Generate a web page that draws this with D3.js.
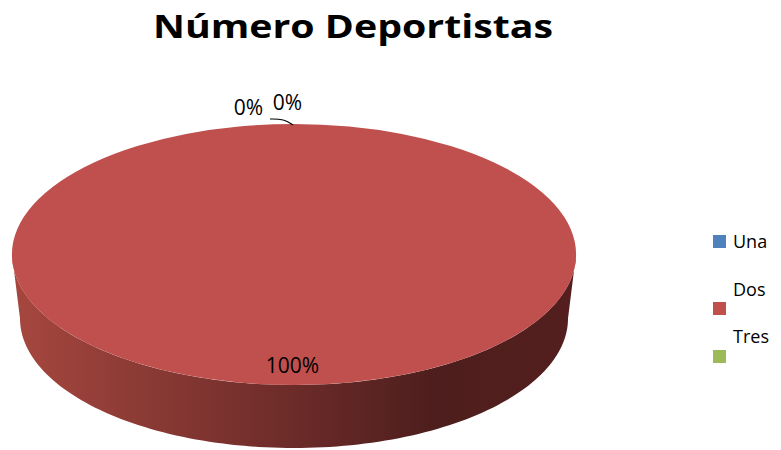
<!DOCTYPE html>
<html><head><meta charset="utf-8">
<script src="https://cdn.jsdelivr.net/npm/d3@7"></script>
<style>body{margin:0;background:#fff}svg{display:block}</style>
</head><body>
<script>
const categories = ["Una", "Dos", "Tres"];
const values = [0, 100, 0];
const colors = ["#4F81BD", "#C0504D", "#9BBB59"];
const title = "Número Deportistas";

const W = 781, H = 450;
const cx = 294, cy = 254.5, rx = 282, ry = 130.5;
const depth = 64, rxB = 274, ryB = 129.5;
const svg = d3.select("body").append("svg").attr("width", W).attr("height", H);

const defs = svg.append("defs");
const g = defs.append("linearGradient").attr("id", "side").attr("gradientUnits", "userSpaceOnUse")
  .attr("x1", cx - rx).attr("x2", cx + rx).attr("y1", 0).attr("y2", 0);
g.append("stop").attr("offset", "0%").attr("stop-color", "#a6473f");
g.append("stop").attr("offset", "45%").attr("stop-color", "#722e2b");
g.append("stop").attr("offset", "75%").attr("stop-color", "#4d1e1d");
g.append("stop").attr("offset", "100%").attr("stop-color", "#541f1e");

svg.append("text").attr("x", 353).attr("y", 38).attr("text-anchor", "middle")
  .attr("font-family", "'Open Sans', sans-serif").attr("font-weight", "bold")
  .attr("font-size", 33).attr("textLength", 400).attr("lengthAdjust", "spacingAndGlyphs")
  .attr("fill", "#000").text(title);

const pie = d3.pie().sort(null).startAngle(0).endAngle(2 * Math.PI);
const arcs = pie(values);
const sx = a => cx + rx * Math.sin(a);
const sy = a => cy - ry * Math.cos(a);
const bx = a => cx + rxB * Math.sin(a);
const by = a => cy + depth - ryB * Math.cos(a);

// sides (front half only)
const chart = svg.append("g");
arcs.forEach((d, i) => {
  const a0 = Math.max(d.startAngle, Math.PI / 2), a1 = Math.min(d.endAngle, 3 * Math.PI / 2);
  if (a1 <= a0) return;
  const n = 120, pts = [];
  for (let k = 0; k <= n; k++) { const a = a0 + (a1 - a0) * k / n; pts.push([sx(a), sy(a)]); }
  for (let k = n; k >= 0; k--) { const a = a0 + (a1 - a0) * k / n; pts.push([bx(a), by(a)]); }
  chart.append("path").attr("d", d3.line()(pts) + "Z")
    .attr("fill", i === 1 ? "url(#side)" : d3.color(colors[i]).darker(1));
});
// top face
const arcGen = d3.arc().innerRadius(0).outerRadius(rx);
chart.append("g").attr("transform", `translate(${cx},${cy}) scale(1,${ry / rx})`)
  .selectAll("path").data(arcs).join("path")
  .attr("d", arcGen).attr("fill", (d, i) => colors[i]);

// labels
const total = d3.sum(values);
const fmt = v => Math.round(v / total * 100) + "%";
const lbl = svg.append("g").attr("font-family", "'Open Sans', sans-serif").attr("font-size", 21).attr("fill", "#000");
const big = arcs[1];
const ma = (big.startAngle + big.endAngle) / 2;
lbl.append("text").attr("x", cx - 1.5 + 0 * Math.sin(ma)).attr("y", cy - 0.91 * ry * Math.cos(ma))
  .attr("text-anchor", "middle").text(fmt(values[1]));
const topX = sx(arcs[0].startAngle), topY = sy(arcs[0].startAngle);
lbl.append("text").attr("x", topX - 45.5).attr("y", topY - 9).attr("text-anchor", "middle").text(fmt(values[0]));
lbl.append("text").attr("x", topX - 6.5).attr("y", topY - 14).attr("text-anchor", "middle").text(fmt(values[2]));
svg.append("path").attr("d", d3.line().curve(d3.curveBasis)([[topX - 24, topY - 5], [topX - 10, topY - 5], [topX - 1, topY + 1]]))
  .attr("fill", "none").attr("stroke", "#000").attr("stroke-width", 1.2);

// legend
const leg = svg.append("g").attr("font-family", "'Open Sans', sans-serif").attr("font-size", 18).attr("fill", "#000");
const legPos = [{ty: 248, sy: 235}, {ty: 296, sy: 302}, {ty: 343, sy: 350}];
categories.forEach((c, i) => {
  leg.append("rect").attr("x", 713).attr("y", legPos[i].sy).attr("width", 13).attr("height", 13).attr("fill", colors[i]);
  leg.append("text").attr("x", 733).attr("y", legPos[i].ty).text(c);
});
</script>
</body></html>
